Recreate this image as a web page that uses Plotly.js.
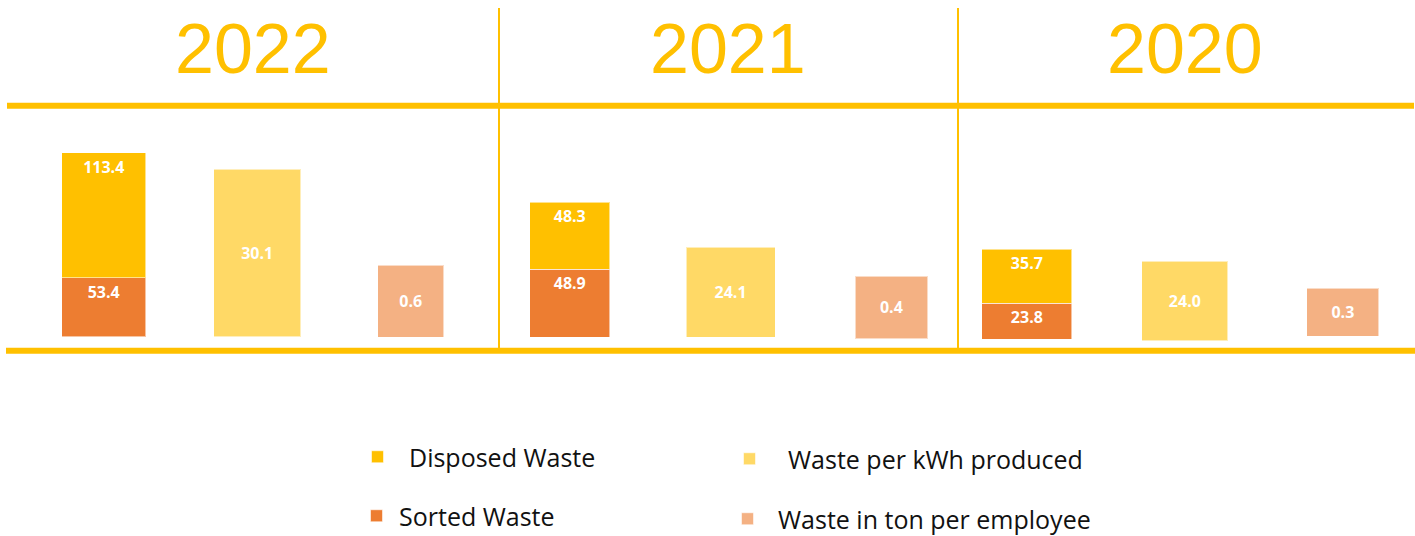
<!DOCTYPE html>
<html><head><meta charset="utf-8">
<script src="https://cdn.plot.ly/plotly-3.0.1.min.js"></script>
<style>html,body{margin:0;padding:0;background:#fff;}#chart{width:1415px;height:536px;}</style>
</head><body><div id="chart"></div>
<script>
// ---- data ----
const years = ["2022", "2021", "2020"];
const disposedWaste = [113.4, 48.3, 35.7];
const sortedWaste = [53.4, 48.9, 23.8];
const wastePerKwh = [30.1, 24.1, 24.0];
const wastePerEmployee = [0.6, 0.4, 0.3];
const seriesNames = ["Disposed Waste", "Sorted Waste", "Waste per kWh produced", "Waste in ton per employee"];
const groups = ["Waste", "kWh", "Employee"];

// ---- layout helpers (positions / styles) ----
const W = 1415, H = 536;
const px = v => v / W, py = v => 1 - v / H;
const gold = '#FFC000';
const colors = { disposed: '#FFC000', sorted: '#ED7D31', kwh: '#FFD966', emp: '#F4B183' };
const panels = [[7, 499], [499, 957], [957, 1413]];
const panelRanges = [[-0.63, 2.575], [-0.44, 2.408], [-0.442, 2.444]];
// pixel [bottom, top] of each group's axis box in each panel
const axisBox = [
  [[336.7, 152.7], [336.7, 169.3], [337.3, 265.3]],
  [[337.3, 202], [337.3, 247], [338.7, 276]],
  [[339, 249], [341, 261.3], [336, 288]]
];
const barWidths = [[0.547, 0.569, 0.428], [0.496, 0.553, 0.45], [0.57, 0.544, 0.456]];
const labelFont = { family: 'Open Sans', size: 16, color: '#ffffff', weight: 'bold' };
const edge = { color: 'rgba(255,255,255,0.55)', width: 1 };

const traces = [];
const layout = {
  width: W, height: H,
  margin: { l: 0, r: 0, t: 0, b: 0, pad: 0, autoexpand: false },
  paper_bgcolor: '#fff', plot_bgcolor: 'rgba(0,0,0,0)',
  barmode: 'stack',
  showlegend: true,
  shapes: [], annotations: []
};

function yId(n) { return n === 1 ? 'y' : 'y' + n; }
function yKey(n) { return n === 1 ? 'yaxis' : 'yaxis' + n; }

for (let p = 0; p < 3; p++) {
  const xa = p === 0 ? 'x' : 'x' + (p + 1);
  const xKey = p === 0 ? 'xaxis' : 'xaxis' + (p + 1);
  const yn = [3 * p + 1, 3 * p + 2, 3 * p + 3];
  layout[xKey] = {
    domain: [px(panels[p][0]), px(panels[p][1])],
    type: 'category', categoryarray: groups, categoryorder: 'array',
    range: panelRanges[p], anchor: yId(yn[0]), visible: false, fixedrange: true
  };
  const ranges = [disposedWaste[p] + sortedWaste[p], wastePerKwh[p], wastePerEmployee[p]];
  for (let g = 0; g < 3; g++) {
    layout[yKey(yn[g])] = {
      domain: [py(axisBox[p][g][0]), py(axisBox[p][g][1])],
      range: [0, ranges[g]], anchor: xa, visible: false, fixedrange: true
    };
  }
  const common = { type: 'bar', xaxis: xa, textposition: 'inside', textangle: 0,
    textfont: labelFont, insidetextfont: labelFont, constraintext: 'none',
    hoverinfo: 'name+y', cliponaxis: false };
  traces.push(Object.assign({}, common, {
    x: [groups[0]], y: [sortedWaste[p]], yaxis: yId(yn[0]), width: barWidths[p][0],
    name: seriesNames[1], marker: { color: colors.sorted, line: edge },
    text: [sortedWaste[p].toFixed(1)], insidetextanchor: 'end',
    legend: 'legend3', showlegend: p === 0, legendgroup: 'sorted'
  }));
  traces.push(Object.assign({}, common, {
    x: [groups[0]], y: [disposedWaste[p]], yaxis: yId(yn[0]), width: barWidths[p][0],
    name: seriesNames[0], marker: { color: colors.disposed, line: edge },
    text: [disposedWaste[p].toFixed(1)], insidetextanchor: 'end',
    legend: 'legend', showlegend: p === 0, legendgroup: 'disposed'
  }));
  traces.push(Object.assign({}, common, {
    x: [groups[1]], y: [wastePerKwh[p]], yaxis: yId(yn[1]), width: barWidths[p][1],
    name: seriesNames[2], marker: { color: colors.kwh, line: edge },
    text: [wastePerKwh[p].toFixed(1)], insidetextanchor: 'middle',
    legend: 'legend2', showlegend: p === 0, legendgroup: 'kwh'
  }));
  traces.push(Object.assign({}, common, {
    x: [groups[2]], y: [wastePerEmployee[p]], yaxis: yId(yn[2]), width: barWidths[p][2],
    name: seriesNames[3], marker: { color: colors.emp, line: edge },
    text: [wastePerEmployee[p].toFixed(1)], insidetextanchor: 'middle',
    legend: 'legend4', showlegend: p === 0, legendgroup: 'emp'
  }));

  layout.annotations.push({
    xref: 'paper', yref: 'paper', x: px((panels[p][0] + panels[p][1]) / 2), y: py(49),
    xanchor: 'center', yanchor: 'middle', showarrow: false, text: years[p],
    font: { family: 'Liberation Sans, Arial, sans-serif', size: 70, color: gold }
  });
}

// frame lines
layout.shapes.push({ type: 'line', xref: 'paper', yref: 'paper', x0: px(7), x1: px(1414), y0: py(105.7), y1: py(105.7), line: { color: gold, width: 6 }, layer: 'below' });
layout.shapes.push({ type: 'line', xref: 'paper', yref: 'paper', x0: px(6), x1: px(1415), y0: py(350.7), y1: py(350.7), line: { color: gold, width: 6 }, layer: 'below' });
[499, 958].forEach(xv => layout.shapes.push({ type: 'line', xref: 'paper', yref: 'paper', x0: px(xv), x1: px(xv), y0: py(8), y1: py(348), line: { color: gold, width: 2 }, layer: 'below' }));

// legends
const legFont = { family: 'Open Sans', size: 25, color: '#111111' };
function leg(markerCx, cy, iw) {
  return { x: px(markerCx - 5 - iw / 2), y: py(cy), xanchor: 'left', yanchor: 'middle',
    itemwidth: iw, font: legFont, bgcolor: 'rgba(0,0,0,0)', borderwidth: 0, orientation: 'v',
    itemclick: false, itemdoubleclick: false };
}
layout.legend = leg(377.5, 457, 53);
layout.legend2 = leg(749.5, 459, 67);
layout.legend3 = leg(376.5, 516, 35);
layout.legend4 = leg(747.5, 519, 51);

Plotly.newPlot('chart', traces, layout, { displayModeBar: false, staticPlot: true });
</script>
</body></html>
